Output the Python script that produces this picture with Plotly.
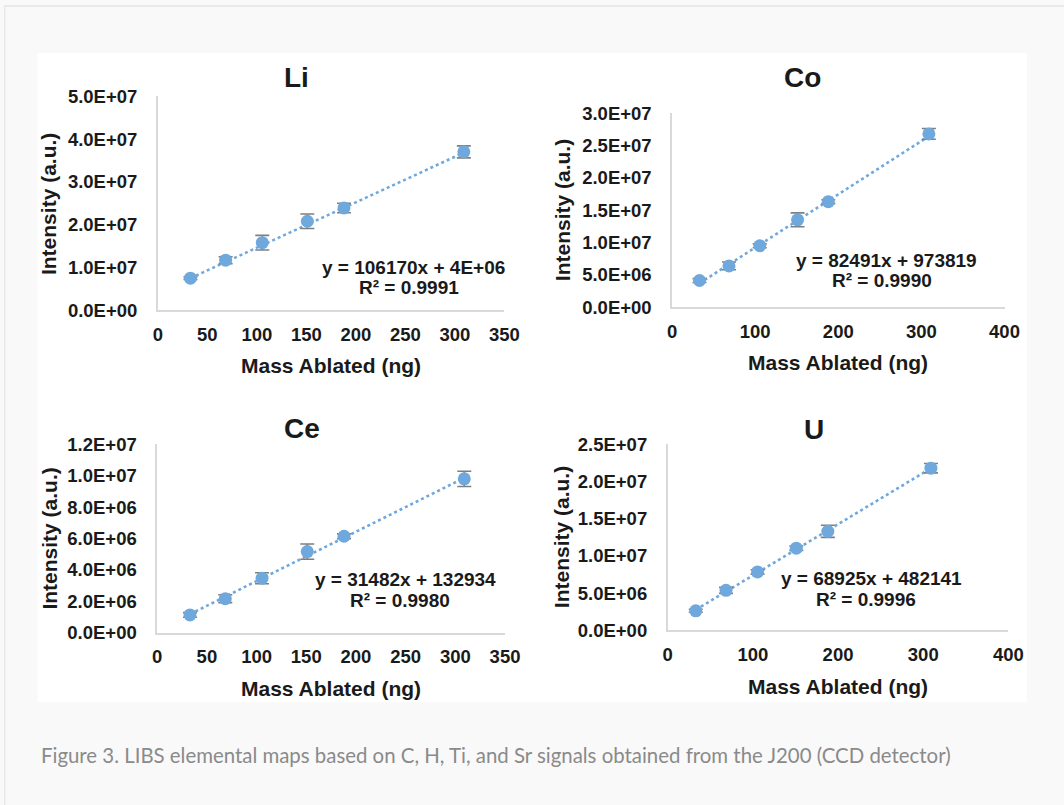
import plotly.graph_objects as go

PAGE_W, PAGE_H = 1064, 805
BODY_MARGIN = 8  # default browser body margin around the plot div
W, H = PAGE_W - 2 * BODY_MARGIN, PAGE_H - 2 * BODY_MARGIN

# ---------------- data ----------------
elements = ["Li", "Co", "Ce", "U"]
mass_ablated = [33, 68.5, 105.5, 151, 188, 309]

li_intensity = [7.5e6, 1.17e7, 1.58e7, 2.08e7, 2.39e7, 3.70e7]
li_error = [3e5, 8e5, 1.7e6, 1.7e6, 1.1e6, 1.4e6]
co_intensity = [4.12e6, 6.38e6, 9.50e6, 1.352e7, 1.633e7, 2.683e7]
co_error = [3e5, 6e5, 3e5, 1.08e6, 3e5, 8.3e5]
ce_intensity = [1.12e6, 2.16e6, 3.46e6, 5.16e6, 6.14e6, 9.80e6]
ce_error = [1.5e5, 2.5e5, 3.5e5, 4.9e5, 1.5e5, 4.9e5]
u_intensity = [2.62e6, 5.37e6, 7.85e6, 1.104e7, 1.331e7, 2.18e7]
u_error = [2e5, 4e5, 3e5, 3e5, 8.1e5, 6.3e5]

fit_slope = [106170, 82491, 31482, 68925]
fit_intercept = [4e6, 973819, 132934, 482141]
equation_text = ["y = 106170x + 4E+06", "y = 82491x + 973819",
                 "y = 31482x + 132934", "y = 68925x + 482141"]
r2_text = ["R² = 0.9991", "R² = 0.9990", "R² = 0.9980", "R² = 0.9996"]

li_yticks = [0, 1e7, 2e7, 3e7, 4e7, 5e7]
li_yticklabels = ["0.0E+00", "1.0E+07", "2.0E+07", "3.0E+07", "4.0E+07", "5.0E+07"]
co_yticks = [0, 5e6, 1e7, 1.5e7, 2e7, 2.5e7, 3e7]
co_yticklabels = ["0.0E+00", "5.0E+06", "1.0E+07", "1.5E+07", "2.0E+07", "2.5E+07", "3.0E+07"]
ce_yticks = [0, 2e6, 4e6, 6e6, 8e6, 1e7, 1.2e7]
ce_yticklabels = ["0.0E+00", "2.0E+06", "4.0E+06", "6.0E+06", "8.0E+06", "1.0E+07", "1.2E+07"]
u_yticks = [0, 5e6, 1e7, 1.5e7, 2e7, 2.5e7]
u_yticklabels = ["0.0E+00", "5.0E+06", "1.0E+07", "1.5E+07", "2.0E+07", "2.5E+07"]
xticks_350 = [0, 50, 100, 150, 200, 250, 300, 350]
xticks_400 = [0, 100, 200, 300, 400]

x_title = "Mass Ablated (ng)"
y_title = "Intensity (a.u.)"
caption = "Figure 3. LIBS elemental maps based on C, H, Ti, and Sr signals obtained from the J200 (CCD detector)"

intensities = [li_intensity, co_intensity, ce_intensity, u_intensity]
errors = [li_error, co_error, ce_error, u_error]
yticks = [li_yticks, co_yticks, ce_yticks, u_yticks]
yticklabels = [li_yticklabels, co_yticklabels, ce_yticklabels, u_yticklabels]
xticks = [xticks_350, xticks_400, xticks_350, xticks_400]

# ---------------- layout geometry (page pixels) ----------------
areas = [(155.6, 509.0, 87.3, 307.3),
         (679.9, 1018.8, 105.0, 304.0),
         (155.0, 509.6, 445.0, 638.3),
         (675.4, 1022.8, 445.0, 636.0)]
title_pos = [(296.8, 68), (812.7, 68), (303.0, 428.3), (824.6, 430.0)]
ytitle_pos = [(44.8, 198), (568.1, 204), (44.8, 541.7), (568.0, 540.0)]
xtitle_pos = [(332.0, 364), (849.5, 361), (332.3, 695.7), (849.5, 693.3)]
eq_pos = [(416.7, 263.3), (898.9, 256.0), (408.0, 584.3), (882.9, 583.3)]
r2_pos = [(411.5, 284.0), (893.4, 277.0), (402.9, 605.7), (877.4, 604.0)]


def fx(x):
    return (x - BODY_MARGIN) / W


def fy(y):
    return 1 - (y - BODY_MARGIN) / H


FONT = "Liberation Sans, Arial, sans-serif"
TXT = "#1a1a1a"
BLUE = "#6fa8dc"

fig = go.Figure()
layout = dict(width=W, height=H, margin=dict(l=0, r=0, t=0, b=0),
              paper_bgcolor="#f9f9f9", plot_bgcolor="rgba(0,0,0,0)",
              showlegend=False, annotations=[], shapes=[])

for i in range(4):
    xa = "x" if i == 0 else f"x{i+1}"
    ya = "y" if i == 0 else f"y{i+1}"
    xs = mass_ablated
    fit_x = [min(xs), max(xs)]
    fit_y = [fit_slope[i] * v + fit_intercept[i] for v in fit_x]
    fig.add_trace(go.Scatter(x=fit_x, y=fit_y, mode="lines", xaxis=xa, yaxis=ya,
                             line=dict(color=BLUE, width=2.6, dash="dot"),
                             hoverinfo="skip"))
    fig.add_trace(go.Scatter(x=xs, y=intensities[i], mode="markers", xaxis=xa, yaxis=ya,
                             marker=dict(color=BLUE, size=13),
                             error_y=dict(type="data", array=errors[i], visible=True,
                                          color="#7f7f7f", thickness=1.6, width=7),
                             cliponaxis=False))
    l, r, t, b = areas[i]
    key_x = "xaxis" if i == 0 else f"xaxis{i+1}"
    key_y = "yaxis" if i == 0 else f"yaxis{i+1}"
    layout[key_x] = dict(domain=[fx(l), fx(r)], anchor=ya, range=[0, xticks[i][-1]],
                         tickmode="array", tickvals=xticks[i],
                         ticktext=[str(v) for v in xticks[i]],
                         showgrid=False, zeroline=False, showline=True,
                         linecolor="#d9d9d9", linewidth=1.5, ticks="",
                         ticklabelstandoff=7,
                         tickfont=dict(family=FONT, size=18.5, color=TXT, weight="bold"))
    layout[key_y] = dict(domain=[fy(b), fy(t)], anchor=xa, range=[0, yticks[i][-1]],
                         tickmode="array", tickvals=yticks[i], ticktext=yticklabels[i],
                         showgrid=False, zeroline=False, showline=True,
                         linecolor="#d9d9d9", linewidth=1.5, ticks="",
                         ticklabelstandoff=15,
                         tickfont=dict(family=FONT, size=18.5, color=TXT, weight="bold"))

    ann = layout["annotations"]
    ann.append(dict(text=elements[i], x=fx(title_pos[i][0]), y=fy(title_pos[i][1]),
                    xref="paper", yref="paper", showarrow=False, xanchor="center",
                    yanchor="middle",
                    font=dict(family=FONT, size=28, color=TXT, weight="bold")))
    ann.append(dict(text=y_title, x=fx(ytitle_pos[i][0]), y=fy(ytitle_pos[i][1]),
                    xref="paper", yref="paper", showarrow=False, textangle=-90,
                    xanchor="center", yanchor="middle",
                    font=dict(family=FONT, size=21, color=TXT, weight="bold")))
    ann.append(dict(text=x_title, x=fx(xtitle_pos[i][0]), y=fy(xtitle_pos[i][1]),
                    xref="paper", yref="paper", showarrow=False,
                    xanchor="center", yanchor="middle",
                    font=dict(family=FONT, size=21, color=TXT, weight="bold")))
    ann.append(dict(text=equation_text[i], x=fx(eq_pos[i][0]), y=fy(eq_pos[i][1]),
                    xref="paper", yref="paper", showarrow=False,
                    xanchor="center", yanchor="middle",
                    font=dict(family=FONT, size=19, color=TXT, weight="bold")))
    ann.append(dict(text=r2_text[i], x=fx(r2_pos[i][0]), y=fy(r2_pos[i][1]),
                    xref="paper", yref="paper", showarrow=False,
                    xanchor="center", yanchor="middle",
                    font=dict(family=FONT, size=19, color=TXT, weight="bold")))

layout["annotations"].append(dict(text=caption, x=fx(34), y=fy(764), xref="paper", yref="paper",
                                  showarrow=False, xanchor="left", yanchor="middle",
                                  font=dict(family="Lato, sans-serif", size=20.4, color="#8a8a8a")))

layout["shapes"] = [
    dict(type="rect", xref="paper", yref="paper", x0=fx(33), x1=fx(1041.5), y0=fy(710), y1=fy(43),
         fillcolor="white", line=dict(width=0), layer="below"),
]

fig.update_layout(**layout)

# page background (outside the plot div): light gray with thin frame lines
page_bg = ("document.documentElement.style.background = "
           "'linear-gradient(#e9e9e9,#e9e9e9) 4px 5px / 100% 2px no-repeat, "
           "linear-gradient(#e9e9e9,#e9e9e9) 4px 5px / 1.5px 100% no-repeat, #f9f9f9';")
fig.write_html("out.html", config={"displayModeBar": False}, post_script=page_bg)
